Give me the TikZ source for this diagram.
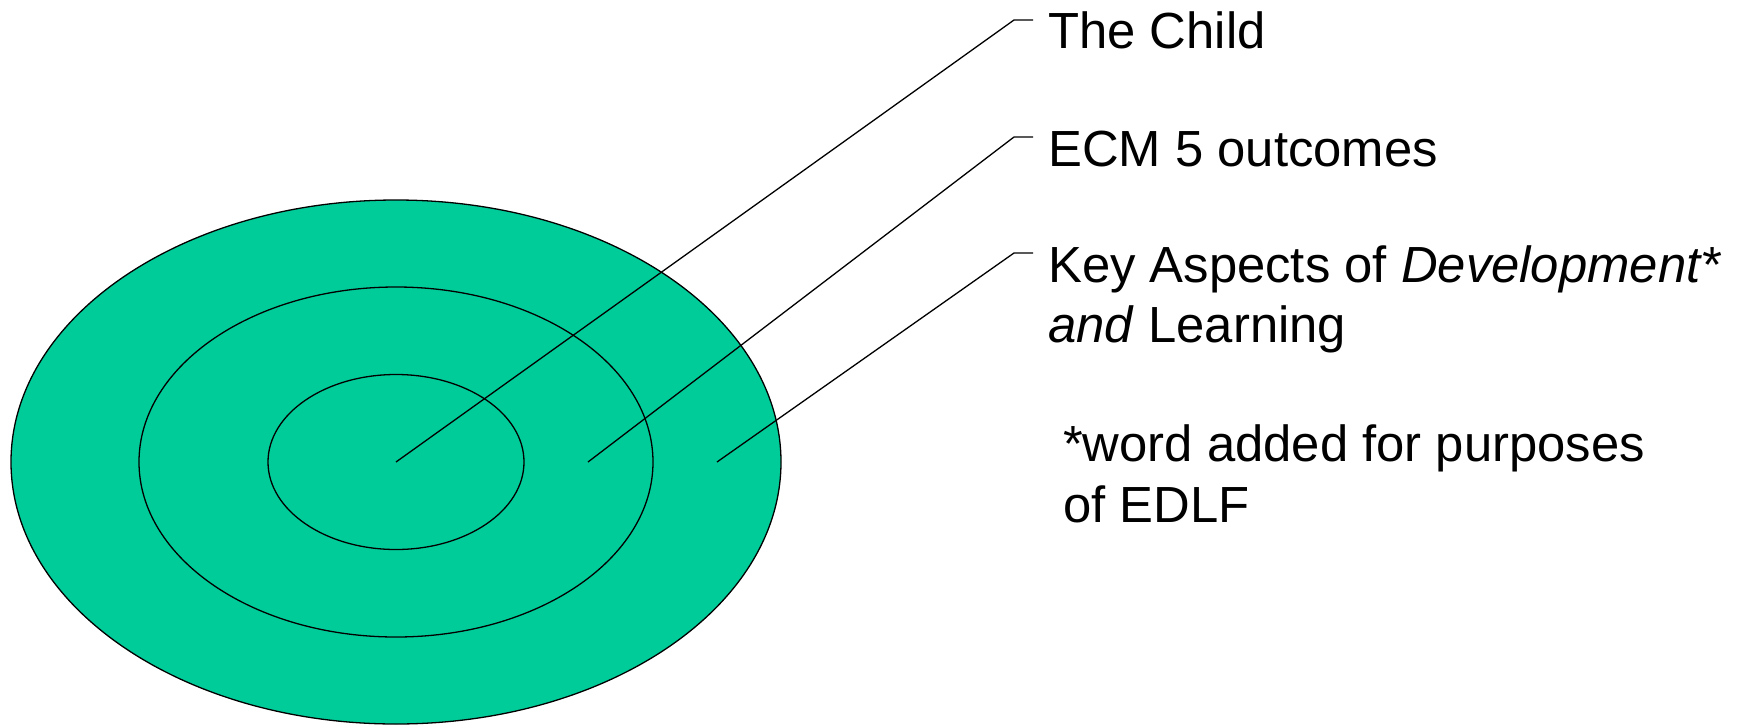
\documentclass[tikz,border=0pt]{standalone}
\usepackage{fontspec}
\setmainfont{Liberation Sans}
\definecolor{ringgreen}{RGB}{0,204,153}
\begin{document}
\begin{tikzpicture}[x=1pt,y=-1pt,
  ring/.style={draw=black,line width=1.3pt,fill=ringgreen},
  leader/.style={draw=black,line width=1.3pt},
  lbl/.style={anchor=base west,inner ysep=0pt,inner xsep=0pt,font=\fontsize{50.8}{60}\selectfont}]
\useasboundingbox (0,0) rectangle (1741,726);
% rings
\path[ring] (396,462) ellipse [x radius=385pt, y radius=262pt];
\path[ring] (396,462) ellipse [x radius=257pt, y radius=175pt];
\path[ring] (396,462) ellipse [x radius=128pt, y radius=87.5pt];
% anchor points inside rings
\coordinate (p1) at (396,462);
\coordinate (p2) at (588,462);
\coordinate (p3) at (717,462);
% labels
\node[lbl] (child) at (1048,48) {The Child};
\node[lbl] (ecm) at (1048,166) {ECM 5 outcomes};
\node[lbl] (key) at (1048,282) {Key Aspects of \textit{Development*}};
\node[lbl] (learn) at (1048,342) {\textit{and} Learning};
\node[lbl] (note1) at (1063,461) {*word added for purposes};
\node[lbl] (note2) at (1063,522) {of EDLF};
% leaders
\draw[leader] (p1) -- ([shift={(-34pt,28pt)}]child.base west) -- ([shift={(-15pt,28pt)}]child.base west);
\draw[leader] (p2) -- ([shift={(-34pt,29pt)}]ecm.base west) -- ([shift={(-15pt,29pt)}]ecm.base west);
\draw[leader] (p3) -- ([shift={(-34pt,29pt)}]key.base west) -- ([shift={(-15pt,29pt)}]key.base west);
\end{tikzpicture}
\end{document}
